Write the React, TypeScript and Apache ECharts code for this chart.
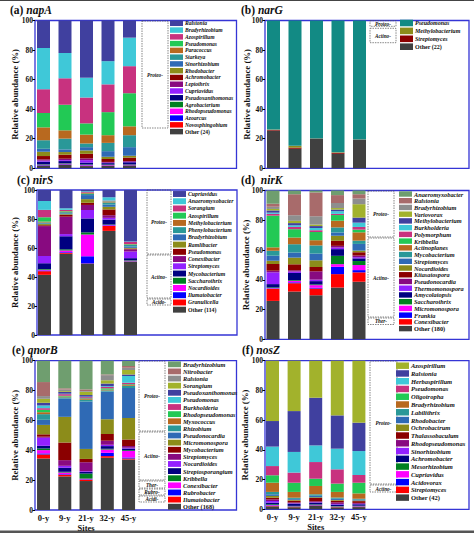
import React, { useEffect, useRef } from 'react';
import * as echarts from 'echarts';

const sites = ['0-y', '9-y', '21-y', '32-y', '45-y'];

const palette = ['#6F9E6F', '#A86B6B', '#8E8E8E', '#A2B22C', '#40409F', '#3FC8D8', '#C8327F', '#22C955', '#B8691F', '#2A9898', '#2F6AB5', '#8C8C1A', '#8B0000', '#880A80', '#9320FF', '#000080', '#008020', '#FF00FF', '#0000FF', '#FF0000'];
const otherColor = '#404040';
const narGColors = ['#128A84', '#8C8C1A', '#8B0000'];

// (a) napA
const napAGenera = ['Ralstonia', 'Bradyrhizobium', 'Azospirillum', 'Pseudomonas', 'Paracoccus', 'Starkeya', 'Sinorhizobium', 'Rhodobacter', 'Achromobacter', 'Leptothrix', 'Cupriavidus', 'Pseudoxanthomonas', 'Agrobacterium', 'Rhodopseudomonas', 'Azoarcus', 'Novosphingobium', 'Other (24)'];
const napAValues = [
  [18.6, 22.0, 38.7, 27.5, 11.6],
  [27.9, 17.1, 13.4, 15.7, 19.3],
  [16.1, 17.9, 17.5, 18.8, 18.3],
  [9.7, 17.3, 7.6, 15.6, 22.4],
  [8.7, 5.6, 6.0, 5.2, 6.0],
  [5.8, 7.3, 2.5, 5.6, 8.1],
  [2.0, 1.8, 2.2, 3.8, 5.8],
  [2.9, 1.8, 2.3, 1.5, 1.3],
  [2.3, 2.7, 3.1, 2.0, 2.3],
  [0.8, 1.0, 1.2, 0.5, 0.5],
  [0.7, 0.6, 1.6, 0.3, 0.3],
  [1.8, 1.5, 1.3, 1.0, 1.5],
  [0.3, 0.3, 0.3, 0.3, 0.2],
  [0.2, 0.3, 0.3, 0.2, 0.2],
  [0.3, 0.3, 0.3, 0.2, 0.2],
  [0.2, 0.2, 0.2, 0.2, 0.2],
  [1.7, 2.3, 1.5, 1.6, 1.8],
];

// (b) narG
const narGGenera = ['Pseudomonas', 'Methylobacterium', 'Streptomyces', 'Other (22)'];
const narGValues = [
  [73.8, 84.8, 79.8, 89.2, 80.5],
  [0.2, 1.2, 0.1, 0.3, 0.1],
  [0.5, 0.8, 0.2, 0.7, 0.2],
  [25.5, 13.2, 19.9, 9.8, 19.2],
];

// (c) nirS
const nirSGenera = ['Cupriavidus', 'Anaeromyxobacter', 'Sorangium', 'Azospirillum', 'Methylobacterium', 'Phenylobacterium', 'Bradyrhizobium', 'Ramlibacter', 'Pseudomonas', 'Conexibacter', 'Streptomyces', 'Mycobacterium', 'Saccharothrix', 'Nocardioides', 'Ilumatobacter', 'Granulicella', 'Other (114)'];
const nirSValues = [
  [7.6, 12.6, 0.9, 5.0, 35.5],
  [6.1, 1.1, 0.5, 2.3, 0.3],
  [5.1, 0.8, 0.5, 0.5, 1.5],
  [3.0, 0.3, 0.3, 0.3, 0.3],
  [0.6, 0.5, 0.5, 0.5, 0.3],
  [0.6, 0.8, 0.8, 1.5, 1.0],
  [0.5, 0.6, 2.8, 1.5, 1.0],
  [0.8, 0.5, 2.5, 1.8, 0.5],
  [0.6, 1.2, 1.5, 4.0, 0.5],
  [20.6, 12.0, 3.5, 1.8, 1.5],
  [5.0, 1.5, 5.8, 1.2, 4.6],
  [4.0, 9.0, 9.6, 3.4, 1.5],
  [0.5, 0.8, 1.5, 0.3, 0.3],
  [0.5, 1.2, 15.0, 0.3, 0.2],
  [0.5, 0.5, 5.0, 0.4, 0.2],
  [2.5, 0.6, 0.3, 3.4, 0.2],
  [41.5, 56.0, 49.0, 71.8, 50.6],
];

// (d) nirK
const nirKGenera = ['Anaeromyxobacter', 'Ralstonia', 'Bradyrhizobium', 'Variovorax', 'Methylobacterium', 'Burkholderia', 'Polymorphum', 'Kribbella', 'Actinoplanes', 'Mycobacterium', 'Streptomyces', 'Nocardioides', 'Kitasatospora', 'Pseudonocardia', 'Thermomonospora', 'Amycolatopsis', 'Saccharothrix', 'Micromonospora', 'Frankia', 'Conexibacter', 'Other (180)'];
const nirKValues = [
  [8.9, 2.5, 1.3, 3.1, 2.5],
  [2.0, 14.1, 16.0, 5.3, 2.9],
  [1.5, 3.8, 5.6, 3.4, 3.8],
  [1.0, 1.5, 1.0, 1.0, 9.0],
  [1.5, 1.5, 1.3, 1.1, 3.4],
  [0.8, 1.1, 1.5, 1.8, 2.9],
  [1.2, 1.5, 1.2, 0.8, 1.8],
  [21.3, 5.6, 5.5, 3.8, 1.8],
  [2.3, 4.5, 3.5, 4.5, 5.6],
  [3.3, 5.6, 5.5, 3.4, 2.2],
  [3.4, 3.4, 4.5, 2.2, 4.5],
  [2.2, 4.5, 4.5, 3.4, 1.1],
  [4.5, 4.0, 2.9, 3.4, 2.2],
  [1.1, 0.8, 5.6, 1.1, 1.1],
  [7.9, 1.0, 1.0, 1.1, 0.8],
  [2.2, 4.8, 2.2, 4.5, 1.8],
  [0.5, 0.5, 0.5, 5.6, 2.7],
  [0.3, 1.0, 1.8, 1.8, 3.4],
  [0.3, 0.6, 0.5, 4.9, 1.5],
  [8.0, 5.6, 4.5, 9.0, 6.3],
  [25.8, 32.1, 29.6, 34.8, 38.7],
];

// (e) qnorB
const qnorBGenera = ['Bradyrhizobium', 'Nitrobacter', 'Ralstonia', 'Sorangium', 'Pseudoxanthomonas', 'Pseudomonas', 'Burkholderia', 'Rhodopseudomonas', 'Myxococcus', 'Rhizobium', 'Pseudonocardia', 'Micromonospora', 'Mycobacterium', 'Streptomyces', 'Nocardioides', 'Streptosporangium', 'Kribbella', 'Conexibacter', 'Rubrobacter', 'Ilumatobacter', 'Other (168)'];
const qnorBValues = [
  [14.3, 18.5, 19.2, 9.2, 3.6],
  [9.4, 0.8, 1.1, 0.5, 1.1],
  [1.8, 1.0, 0.5, 3.4, 1.6],
  [2.7, 0.5, 2.2, 2.2, 2.9],
  [1.8, 1.3, 1.1, 1.8, 1.1],
  [1.8, 0.3, 0.3, 0.5, 4.5],
  [1.1, 1.1, 0.8, 0.9, 1.0],
  [1.6, 0.5, 0.5, 0.9, 0.5],
  [1.3, 0.5, 0.5, 0.5, 0.5],
  [3.8, 0.8, 1.1, 0.8, 1.5],
  [3.4, 12.3, 31.8, 18.5, 20.0],
  [6.3, 17.2, 6.7, 9.9, 14.4],
  [1.6, 11.8, 2.2, 4.5, 4.5],
  [0.7, 3.8, 6.0, 2.7, 1.1],
  [5.4, 1.3, 0.5, 0.9, 0.5],
  [1.8, 2.7, 1.1, 1.8, 1.1],
  [1.1, 0.5, 3.4, 0.5, 0.5],
  [2.2, 1.1, 0.4, 2.2, 4.5],
  [0.7, 0.4, 0.3, 2.2, 0.6],
  [2.7, 1.1, 0.9, 1.1, 0.6],
  [34.5, 22.5, 19.4, 35.0, 33.9],
];

// (f) nosZ
const nosZGenera = ['Azospirillum', 'Ralstonia', 'Herbaspirillum', 'Pseudomonas', 'Oligotropha', 'Bradyrhizobium', 'Labilithrix', 'Rhodobacter', 'Ochrobactrum', 'Thalassobaculum', 'Rhodopseudomonas', 'Sinorhizobium', 'Achromobacter', 'Mesorhizobium', 'Cupriavidus', 'Acidovorax', 'Streptomyces', 'Other (42)'];
const nosZValues = [
  [40.6, 33.9, 24.9, 36.8, 41.7],
  [17.2, 27.5, 32.1, 22.4, 19.1],
  [13.1, 13.9, 11.2, 13.9, 16.1],
  [6.2, 6.8, 11.2, 9.6, 5.2],
  [5.0, 6.2, 4.9, 5.6, 7.2],
  [6.2, 3.9, 5.6, 3.8, 3.6],
  [1.6, 0.8, 1.0, 0.8, 0.6],
  [1.1, 0.6, 1.0, 0.8, 0.6],
  [1.2, 0.6, 0.5, 0.5, 0.4],
  [1.1, 1.2, 2.2, 1.1, 1.2],
  [1.1, 0.5, 0.6, 1.1, 0.6],
  [1.1, 0.3, 0.3, 0.4, 0.3],
  [1.1, 1.5, 1.2, 1.0, 1.0],
  [0.5, 0.3, 0.3, 0.3, 0.3],
  [0.3, 0.2, 0.2, 0.2, 0.2],
  [0.3, 0.2, 0.2, 0.2, 0.2],
  [0.3, 0.2, 0.2, 0.2, 0.2],
  [2.0, 1.4, 2.4, 1.3, 1.5],
];

const FONT = '"Liberation Serif", "Times New Roman", serif';
const FRAME = '#3535D5';

type Panel = {
  key: string; label: string; gene: string; genera: string[]; values: number[][]; colors: string[];
  grid: { left: number; top: number; width: number; height: number };
  frame: [number, number, number, number];
  legend: { left: number; first: number; sp: number; fs: number };
  title: [number, number]; yNameX: number; bottom: boolean;
  boxX: [number, number]; boxes: { t: string; y0: number; y1: number }[];
};

const panels: Panel[] = [
  {
    key: 'a', label: '(a) ', gene: 'napA', genera: napAGenera, values: napAValues, colors: palette.slice(4),
    grid: { left: 32.75, top: 20.5, width: 107.5, height: 147.8 }, frame: [35, 20.5, 201.5, 147.8],
    legend: { left: 170, first: 23.3, sp: 6.77, fs: 5.6 }, title: [10, 9.5], yNameX: 15, bottom: false,
    boxX: [142, 168], boxes: [{ t: 'Proteo-', y0: 21, y1: 128 }],
  },
  {
    key: 'b', label: '(b) ', gene: 'narG', genera: narGGenera, values: narGValues, colors: narGColors,
    grid: { left: 262.75, top: 20.5, width: 107.5, height: 147.8 }, frame: [265, 20.5, 204, 147.8],
    legend: { left: 400, first: 23, sp: 7.9, fs: 6 }, title: [241, 9.5], yNameX: 247, bottom: false,
    boxX: [370, 396], boxes: [{ t: 'Proteo-', y0: 20.7, y1: 26.3 }, { t: 'Actino-', y0: 28.3, y1: 42.7 }],
  },
  {
    key: 'c', label: '(c) ', gene: 'nirS', genera: nirSGenera, values: nirSValues, colors: palette.slice(4),
    grid: { left: 33.75, top: 190, width: 107.5, height: 145 }, frame: [37, 190, 200, 145],
    legend: { left: 173, first: 194, sp: 7.23, fs: 5.8 }, title: [17, 179.5], yNameX: 15, bottom: false,
    boxX: [147, 171], boxes: [{ t: 'Proteo-', y0: 190, y1: 254 }, { t: 'Actino-', y0: 255, y1: 298 }, { t: 'Acido-', y0: 299, y1: 305 }],
  },
  {
    key: 'd', label: '(d)  ', gene: 'nirK', genera: nirKGenera, values: nirKValues, colors: palette,
    grid: { left: 262.25, top: 190.5, width: 107.5, height: 148.8 }, frame: [265, 190.5, 204, 148.8],
    legend: { left: 399, first: 194, sp: 6.73, fs: 6.3 }, title: [241, 179.5], yNameX: 246, bottom: false,
    boxX: [368, 394], boxes: [{ t: 'Proteo-', y0: 191, y1: 237 }, { t: 'Actino-', y0: 238, y1: 317 }, { t: 'Ther-', y0: 318, y1: 324.5 }],
  },
  {
    key: 'e', label: '(e) ', gene: 'qnorB', genera: qnorBGenera, values: qnorBValues, colors: palette,
    grid: { left: 32.9, top: 360.7, width: 106.3, height: 149.3 }, frame: [35, 360.7, 201.5, 149.3],
    legend: { left: 168, first: 364.3, sp: 7.12, fs: 6.3 }, title: [12, 349.5], yNameX: 15, bottom: true,
    boxX: [139, 165], boxes: [{ t: 'Proteo-', y0: 361, y1: 431 }, { t: 'Actino-', y0: 432, y1: 480 }, { t: 'Ther-', y0: 481, y1: 488 }, { t: 'Rubro-', y0: 489, y1: 495 }, { t: 'Acidi-', y0: 496, y1: 502 }],
  },
  {
    key: 'f', label: '(f) ', gene: 'nosZ', genera: nosZGenera, values: nosZValues, colors: palette.slice(3),
    grid: { left: 261.7, top: 360.7, width: 108, height: 148.6 }, frame: [265, 360.7, 204, 148.6],
    legend: { left: 396, first: 365.7, sp: 7.76, fs: 6.5 }, title: [242, 349.5], yNameX: 245, bottom: true,
    boxX: [370, 397], boxes: [{ t: 'Proteo-', y0: 361, y1: 484 }, { t: 'Actino-', y0: 485, y1: 492 }],
  },
];

function textEl(x: number, y: number, text: string, size: number, opts: any = {}) {
  return {
    type: 'text', x, y, rotation: opts.rotation || 0, silent: true,
    style: {
      text, fill: '#111', align: opts.align || 'center', verticalAlign: 'middle',
      textAlign: opts.align || 'center', textVerticalAlign: 'middle',
      fontSize: size, fontFamily: FONT, fontWeight: 'bold', fontStyle: opts.italic ? 'italic' : 'normal',
      rich: opts.rich,
    },
  };
}

function buildOption() {
  const grid: any[] = [];
  const xAxis: any[] = [];
  const yAxis: any[] = [];
  const series: any[] = [];
  const legend: any[] = [];
  const graphic: any[] = [];

  panels.forEach((p, pi) => {
    grid.push({ ...p.grid });
    xAxis.push({
      gridIndex: pi, type: 'category', data: sites,
      axisLine: { show: false }, axisTick: { show: false },
      axisLabel: { show: p.bottom, fontSize: 8.5, fontWeight: 'bold', fontFamily: FONT, color: '#111', margin: 3 },
      name: p.bottom ? 'Sites' : '', nameLocation: 'middle', nameGap: 13,
      nameTextStyle: { fontSize: 8.5, fontWeight: 'bold', fontFamily: FONT, color: '#111' },
    });
    yAxis.push({
      gridIndex: pi, type: 'value', min: 0, max: 100, interval: 20,
      offset: p.grid.left - p.frame[0],
      axisLine: { show: false },
      axisTick: { show: true, length: 2.5, lineStyle: { color: '#000', width: 1 } },
      axisLabel: { fontSize: 7.5, fontWeight: 'bold', fontFamily: FONT, color: '#111', margin: 2 },
      splitLine: { show: false },
    });
    const n = p.genera.length;
    for (let i = n - 1; i >= 0; i--) {
      series.push({
        name: p.key + '|' + p.genera[i], type: 'bar', stack: p.key,
        xAxisIndex: pi, yAxisIndex: pi, barWidth: 13, silent: true,
        data: p.values[i],
        itemStyle: { color: i === n - 1 ? otherColor : p.colors[i] },
        emphasis: { disabled: true },
      });
    }
    const lg = p.legend;
    legend.push({
      data: p.genera.map((g) => p.key + '|' + g), orient: 'vertical',
      left: lg.left, top: lg.first - lg.sp / 2, itemGap: 0, padding: 0,
      itemWidth: 13, itemHeight: lg.sp - 1.3, icon: 'rect', selectedMode: false,
      formatter: (name: string) => {
        const g = name.split('|')[1];
        return g.startsWith('Other') ? '{o|' + g + '}' : g;
      },
      textStyle: {
        fontSize: lg.fs, fontFamily: FONT, fontWeight: 'bold', fontStyle: 'italic', color: '#111', lineHeight: lg.sp,
        padding: [0, 0, 0, -3],
        rich: { o: { fontSize: lg.fs, fontFamily: FONT, fontWeight: 'bold', fontStyle: 'normal', color: '#111', lineHeight: lg.sp } },
      },
    });
    // frame
    graphic.push({
      type: 'rect', silent: true,
      shape: { x: p.frame[0], y: p.frame[1], width: p.frame[2], height: p.frame[3] },
      style: { fill: 'none', stroke: FRAME, lineWidth: 1.3 },
    });
    // group boxes
    p.boxes.forEach((b) => {
      graphic.push({
        type: 'rect', silent: true,
        shape: { x: p.boxX[0], y: b.y0, width: p.boxX[1] - p.boxX[0], height: b.y1 - b.y0 },
        style: { fill: 'none', stroke: '#555', lineWidth: 0.7, lineDash: [1.5, 1] },
      });
      graphic.push(textEl((p.boxX[0] + p.boxX[1]) / 2, (b.y0 + b.y1) / 2, b.t, 5.2, { italic: true }));
    });
    // title
    graphic.push(textEl(p.title[0], p.title[1], '{n|' + p.label + '}{i|' + p.gene + '}', 11.5, {
      align: 'left',
      rich: {
        n: { fontSize: 11.5, fontFamily: FONT, fontWeight: 'bold', fontStyle: 'normal', fill: '#111' },
        i: { fontSize: 11.5, fontFamily: FONT, fontWeight: 'bold', fontStyle: 'italic', fill: '#111' },
      },
    }));
    // y axis name
    graphic.push(textEl(p.yNameX, p.grid.top + p.grid.height / 2, 'Relative abundance (%)', 8.8, { rotation: Math.PI / 2 }));
  });

  graphic.push({ type: 'rect', silent: true, shape: { x: 0, y: 0, width: 474, height: 1 }, style: { fill: '#444' } });
  graphic.push({ type: 'rect', silent: true, shape: { x: 0, y: 530.5, width: 474, height: 2.5 }, style: { fill: '#555' } });

  return {
    animation: false,
    backgroundColor: '#fff',
    grid, xAxis, yAxis, series, legend, graphic,
  };
}

export default function App() {
  const ref = useRef<HTMLDivElement>(null);
  useEffect(() => {
    document.body.style.margin = '0';
    const chart = echarts.init(ref.current!, null, { renderer: 'svg' });
    chart.setOption(buildOption() as any);
    return () => chart.dispose();
  }, []);
  return <div ref={ref} style={{ width: 474, height: 533 }} />;
}
